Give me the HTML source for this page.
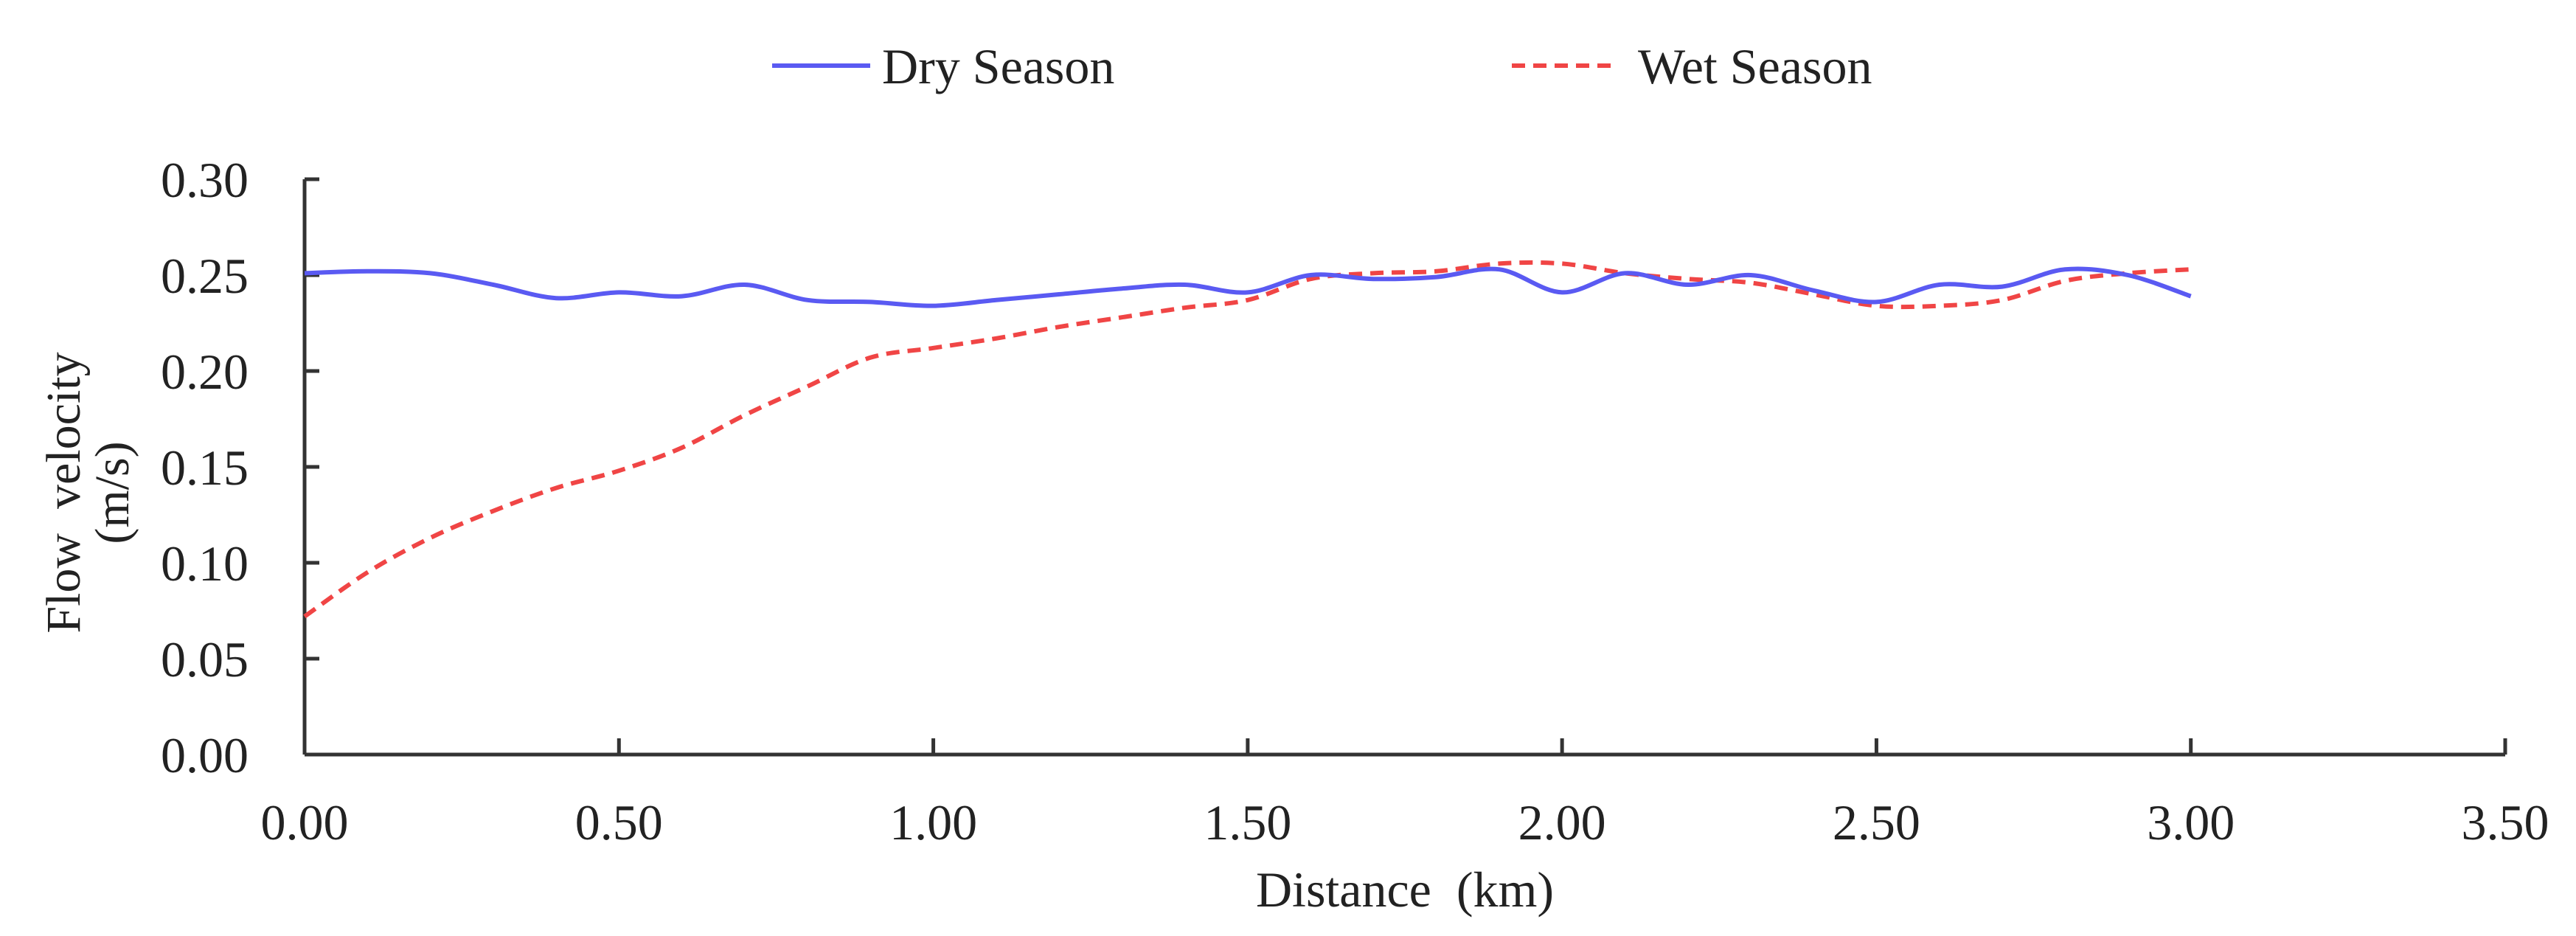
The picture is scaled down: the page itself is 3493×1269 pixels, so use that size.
<!DOCTYPE html>
<html><head><meta charset="utf-8">
<style>
html,body{margin:0;padding:0;background:#fff;}
svg{display:block;font-family:"Liberation Serif",serif;}
</style></head>
<body>
<svg id="chart" width="3493" height="1269" viewBox="0 0 3493 1269" xmlns="http://www.w3.org/2000/svg">
<g id="axes"></g>
<g id="series"></g>
<g>
  <line x1="1047" y1="89" x2="1180" y2="89" stroke="#5a5af2" stroke-width="6"/>
  <text x="1196" y="113" font-size="68" fill="#222">Dry Season</text>
  <line x1="2050" y1="89" x2="2195" y2="89" stroke="#f04545" stroke-width="6" stroke-dasharray="18,11"/>
  <text x="2221" y="113" font-size="68" fill="#222">Wet Season</text>
</g>
<text transform="translate(108,668) rotate(-90)" text-anchor="middle" font-size="66" fill="#222" xml:space="preserve">Flow  velocity</text>
<text transform="translate(174,668) rotate(-90)" text-anchor="middle" font-size="66" fill="#222">(m/s)</text>
<text x="1905" y="1229" text-anchor="middle" font-size="68" fill="#222" xml:space="preserve">Distance  (km)</text>
</svg>
<script>
const xTicks = [0, 0.5, 1.0, 1.5, 2.0, 2.5, 3.0, 3.5];
const xTickLabels = ["0.00","0.50","1.00","1.50","2.00","2.50","3.00","3.50"];
const yTicks = [0, 0.05, 0.10, 0.15, 0.20, 0.25, 0.30];
const yTickLabels = ["0.00","0.05","0.10","0.15","0.20","0.25","0.30"];
const distance = [0,0.1,0.2,0.3,0.4,0.5,0.6,0.7,0.8,0.9,1.0,1.1,1.2,1.3,1.4,1.5,1.6,1.7,1.8,1.9,2.0,2.1,2.2,2.3,2.4,2.5,2.6,2.7,2.8,2.9,3.0];
const drySeason = [0.251,0.252,0.251,0.245,0.238,0.241,0.239,0.245,0.237,0.236,0.234,0.237,0.240,0.243,0.245,0.241,0.250,0.248,0.249,0.253,0.241,0.251,0.245,0.250,0.242,0.236,0.245,0.244,0.253,0.250,0.239];
const wetSeason = [0.072,0.095,0.113,0.127,0.139,0.148,0.160,0.177,0.192,0.207,0.212,0.217,0.223,0.228,0.233,0.237,0.248,0.251,0.252,0.256,0.256,0.251,0.248,0.246,0.240,0.234,0.234,0.237,0.247,0.251,0.253];

const X0=413, X1=3397, Y0=1023, Y1=243;
const xs = v => X0 + (v/3.5)*(X1-X0);
const ys = v => Y0 - (v/0.3)*(Y0-Y1);
const NS="http://www.w3.org/2000/svg";
const axes=document.getElementById('axes');
const series=document.getElementById('series');
function mk(tag, attrs, parent){const e=document.createElementNS(NS,tag);for(const k in attrs)e.setAttribute(k,attrs[k]);parent.appendChild(e);return e;}

const ya=mk('line',{x1:X0,y1:Y1,x2:X0,y2:Y0,stroke:'#333','stroke-width':5},axes);


const xa=mk('line',{x1:X0,y1:Y0,x2:X1,y2:Y0,stroke:'#333','stroke-width':5},axes);



yTicks.forEach((v,i)=>{
  const t=mk('line',{x1:X0,y1:ys(v),x2:X0+20,y2:ys(v),stroke:'#333','stroke-width':5},axes);
  
  
  const l=mk('text',{x:X0-76,y:ys(v)+24,'text-anchor':'end','font-size':68,fill:'#222'},axes);
  l.textContent=yTickLabels[i];
  
  
});
xTicks.forEach((v,i)=>{
  const t=mk('line',{x1:xs(v),y1:Y0,x2:xs(v),y2:Y0-22,stroke:'#333','stroke-width':5},axes);
  
  
  const l=mk('text',{x:xs(v),y:Y0+115,'text-anchor':'middle','font-size':68,fill:'#222'},axes);
  l.textContent=xTickLabels[i];
  
  
});

function smoothPath(xv, yv){
  const p=xv.map((x,i)=>[xs(x),ys(yv[i])]);
  let d=`M${p[0][0]},${p[0][1]}`;
  for(let i=0;i<p.length-1;i++){
    const p0=p[Math.max(0,i-1)],p1=p[i],p2=p[i+1],p3=p[Math.min(p.length-1,i+2)];
    const c1=[p1[0]+(p2[0]-p0[0])/6,p1[1]+(p2[1]-p0[1])/6];
    const c2=[p2[0]-(p3[0]-p1[0])/6,p2[1]-(p3[1]-p1[1])/6];
    d+=` C${c1[0]},${c1[1]} ${c2[0]},${c2[1]} ${p2[0]},${p2[1]}`;
  }
  return d;
}
const wet=mk('path',{d:smoothPath(distance,wetSeason),fill:'none',stroke:'#f04545','stroke-width':6,'stroke-dasharray':'18,11'},series);


const dry=mk('path',{d:smoothPath(distance,drySeason),fill:'none',stroke:'#5a5af2','stroke-width':6},series);


</script>
</body></html>
